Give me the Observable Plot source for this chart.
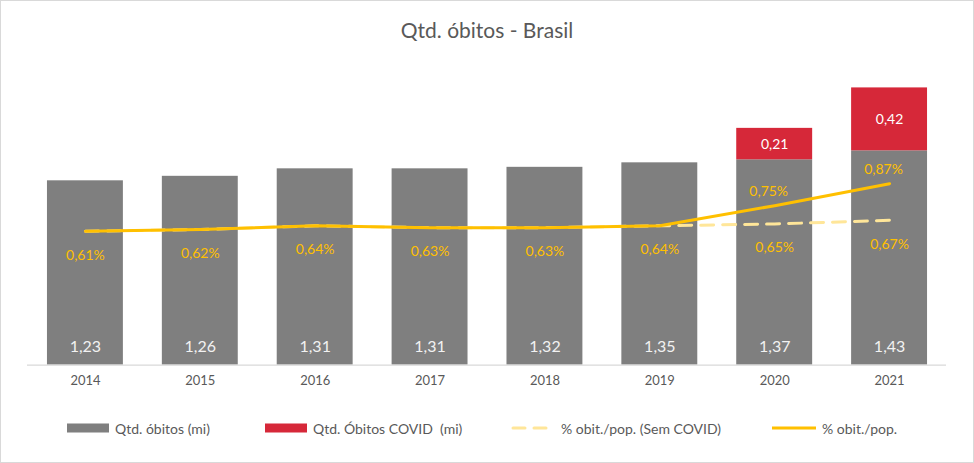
<!DOCTYPE html>
<html>
<head>
<meta charset="utf-8">
<script src="https://cdn.jsdelivr.net/npm/d3@7"></script>
<script src="https://cdn.jsdelivr.net/npm/@observablehq/plot@0.6"></script>
<style>
  html, body { margin: 0; padding: 0; background: #fff; }
  #wrap { position: relative; width: 974px; height: 463px; box-sizing: border-box; border: 1px solid #D9D9D9; font-family: Lato, "Open Sans", sans-serif; overflow: hidden; }
  #title { position: absolute; left: 0; right: 0; top: 16px; text-align: center; font-size: 21px; color: #595959; }
  #chart { position: absolute; left: -1px; top: -1px; }
  #legend { position: absolute; top: 417px; left: 0; width: 974px; height: 20px; font-size: 14px; color: #595959; }
  .item { position: absolute; top: 0; height: 20px; display: flex; align-items: center; }
  .item svg { margin-right: 6px; }
  #chart svg g[aria-label="x-axis tick label"] { fill: #595959; font-size: 13px; }
</style>
</head>
<body>
<div id="wrap">
  <div id="title">Qtd. óbitos - Brasil</div>
  <div id="chart"></div>
  <div id="legend"></div>
</div>
<script>
const years = ["2014", "2015", "2016", "2017", "2018", "2019", "2020", "2021"];
const deaths = [1.23, 1.26, 1.31, 1.31, 1.32, 1.35, 1.37, 1.43];
const covidDeaths = [0, 0, 0, 0, 0, 0, 0.21, 0.42];
const pctSemCovid = [0.61, 0.62, 0.64, 0.63, 0.63, 0.64, 0.65, 0.67];
const pctTotal = [0.61, 0.62, 0.64, 0.63, 0.63, 0.64, 0.75, 0.87];
const seriesNames = ["Qtd. óbitos (mi)", "Qtd. Óbitos COVID  (mi)", "% obit./pop. (Sem COVID)", "% obit./pop."];

const colors = { gray: "#7F7F7F", red: "#D62839", line: "#FFC000", dashed: "#FFE699", text: "#595959" };

const rows = years.map((year, i) => ({
  year, deaths: deaths[i], covid: covidDeaths[i], pctSem: pctSemCovid[i], pctTot: pctTotal[i]
}));
const covidRows = rows.filter(d => d.covid > 0);

// secondary (percent) axis mapped onto the primary y domain
const yDomain = [0, 2];
const pctDomain = [-0.12, 1.515];
const yPct = d3.scaleLinear().domain(pctDomain).range(yDomain);

const num = v => v.toFixed(2).replace(".", ",");
const pct = v => v.toFixed(2).replace(".", ",") + "%";

const chart = Plot.plot({
  width: 974,
  height: 400,
  marginTop: 65,
  marginBottom: 35,
  marginLeft: 27,
  marginRight: 27,
  style: { fontFamily: "Lato, 'Open Sans', sans-serif", fontSize: "13px", background: "transparent", overflow: "visible" },
  x: { domain: years, paddingInner: 0.34, paddingOuter: 0.17, label: null, tickSize: 0, tickPadding: 11 },
  y: { domain: yDomain, axis: null },
  marks: [
    Plot.barY(rows, { x: "year", y: "deaths", fill: colors.gray }),
    Plot.barY(covidRows, { x: "year", y1: "deaths", y2: d => d.deaths + d.covid, fill: colors.red }),
    Plot.ruleY([0], { stroke: "#D9D9D9", strokeWidth: 1.2 }),
    Plot.lineY(rows, { x: "year", y: d => yPct(d.pctSem), stroke: colors.dashed, strokeWidth: 3, strokeDasharray: "13,9", strokeLinecap: "round" }),
    Plot.lineY(rows, { x: "year", y: d => yPct(d.pctTot), stroke: colors.line, strokeWidth: 3 }),
    Plot.text(rows, { x: "year", y: 0, dy: -18, text: d => num(d.deaths), fill: "#F2F2F2", fontSize: 16 }),
    Plot.text(covidRows, { x: "year", y: d => d.deaths + d.covid / 2, text: d => num(d.covid), fill: "#FFFFFF", fontSize: 14 }),
    Plot.text(rows, { x: "year", y: d => yPct(d.pctSem), dy: 24, text: d => pct(d.pctSem), fill: colors.line, fontSize: 14 }),
    Plot.text(covidRows, { x: "year", y: d => yPct(d.pctTot), dy: -14, dx: -6, text: d => pct(d.pctTot), fill: colors.line, fontSize: 14 })
  ]
});
document.getElementById("chart").appendChild(chart);

// legend
const legend = document.getElementById("legend");
const swatches = [
  { left: 66, svg: `<svg width="42" height="10"><rect x="0" y="0.5" width="42" height="9" fill="${colors.gray}"/></svg>` },
  { left: 264, svg: `<svg width="42" height="10"><rect x="0" y="0.5" width="42" height="9" fill="${colors.red}"/></svg>` },
  { left: 510, svg: `<svg width="44" height="10"><line x1="2" y1="5" x2="42" y2="5" stroke="${colors.dashed}" stroke-width="3" stroke-dasharray="12,9" stroke-linecap="round"/></svg>` },
  { left: 771, svg: `<svg width="44" height="10"><line x1="0" y1="5" x2="44" y2="5" stroke="${colors.line}" stroke-width="3"/></svg>` }
];
seriesNames.forEach((name, i) => {
  const el = document.createElement("div");
  el.className = "item";
  el.style.left = swatches[i].left + "px";
  el.innerHTML = swatches[i].svg + `<span style="white-space:pre">${name}</span>`;
  legend.appendChild(el);
});
</script>
</body>
</html>
